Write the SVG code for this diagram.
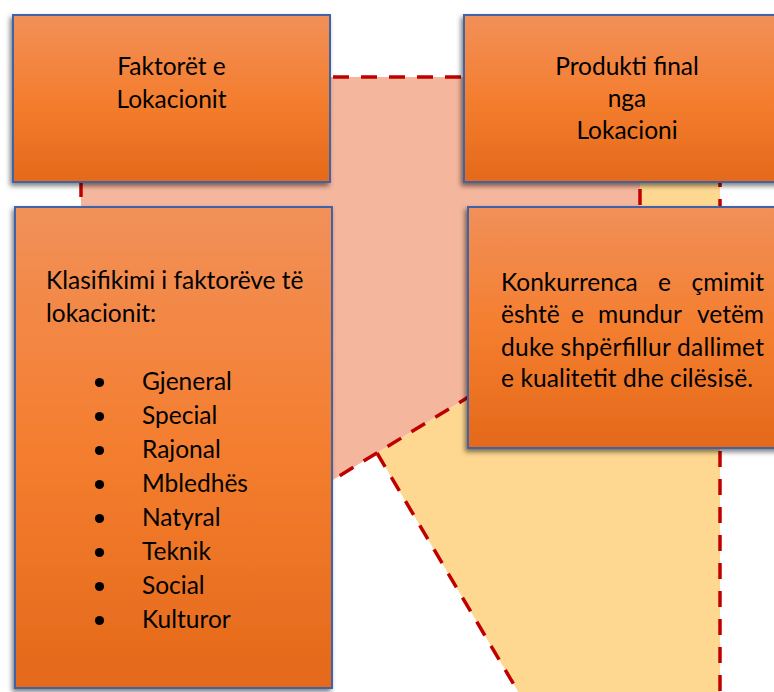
<svg xmlns="http://www.w3.org/2000/svg" width="774" height="692" viewBox="0 0 774 692">
  <defs>
    <linearGradient id="boxFill" x1="0" y1="0" x2="0" y2="1">
      <stop offset="0" stop-color="#F19059"/>
      <stop offset="0.5" stop-color="#F47E2F"/>
      <stop offset="1" stop-color="#E4691A"/>
    </linearGradient>
    <filter id="shadow" x="-10%" y="-10%" width="120%" height="125%">
      <feDropShadow dx="-2" dy="3" stdDeviation="2.5" flood-color="#000" flood-opacity="0.5"/>
    </filter>
  </defs>
  <style>
    .box { fill: url(#boxFill); stroke: #3F64A8; stroke-width: 2; filter: url(#shadow); }
    .t { font-family: Lato, "Liberation Sans", sans-serif; font-size: 24.5px; fill: #000; }
    .c { text-anchor: middle; }
    .e { text-anchor: end; }
    .dash { fill: none; stroke: #C00000; stroke-width: 3.5; stroke-dasharray: 16 12; }
    .bullet { fill: #000; }
  </style>

  <!-- background bands -->
  <g id="bands">
    <polygon points="640,100 720,100 720,700 523,700 377,453 640,292" fill="#FED891"/>
    <polygon points="81,77 640,77 640,292 81,634" fill="#F4B69C"/>
  </g>

  <!-- dashed outlines of the bands -->
  <g id="connectors">
    <path class="dash" d="M81 77 H640"/>
    <path class="dash" d="M81 77 V634" stroke-dashoffset="8"/>
    <path class="dash" d="M640 77 V292"/>
    <path class="dash" d="M640 292 L81 634"/>
    <path class="dash" d="M720 100 V700" stroke-dashoffset="13"/>
    <path class="dash" d="M377 453 L523 700"/>
  </g>

  <g id="faktoret">
    <rect class="box" x="13" y="15" width="317" height="167"/>
    <text class="t c" x="171.5" y="75">Faktorët e</text>
    <text class="t c" x="171.5" y="108">Lokacionit</text>
  </g>

  <g id="produkti">
    <rect class="box" x="464" y="15" width="326" height="167"/>
    <text class="t c" x="627" y="75">Produkti final</text>
    <text class="t c" x="627" y="107">nga</text>
    <text class="t c" x="627" y="139">Lokacioni</text>
  </g>

  <g id="klasifikimi">
    <rect class="box" x="15" y="207" width="317" height="481"/>
    <text class="t" x="46" y="289">Klasifikimi i faktorëve të</text>
    <text class="t" x="46" y="322">lokacionit:</text>
    <circle class="bullet" cx="99.5" cy="382.5" r="4.6"/>
    <circle class="bullet" cx="99.5" cy="416.5" r="4.6"/>
    <circle class="bullet" cx="99.5" cy="450.5" r="4.6"/>
    <circle class="bullet" cx="99.5" cy="484.5" r="4.6"/>
    <circle class="bullet" cx="99.5" cy="518.5" r="4.6"/>
    <circle class="bullet" cx="99.5" cy="552.5" r="4.6"/>
    <circle class="bullet" cx="99.5" cy="586.5" r="4.6"/>
    <circle class="bullet" cx="99.5" cy="620.5" r="4.6"/>
    <text class="t" x="142" y="390">Gjeneral</text>
    <text class="t" x="142" y="424">Special</text>
    <text class="t" x="142" y="458">Rajonal</text>
    <text class="t" x="142" y="492">Mbledhës</text>
    <text class="t" x="142" y="526">Natyral</text>
    <text class="t" x="142" y="560">Teknik</text>
    <text class="t" x="142" y="594">Social</text>
    <text class="t" x="142" y="628">Kulturor</text>
  </g>

  <g id="konkurrenca">
    <rect class="box" x="468" y="207" width="330" height="241"/>
    <text class="t" x="501" y="291">Konkurrenca</text>
    <text class="t c" x="664.5" y="291">e</text>
    <text class="t e" x="764" y="291">çmimit</text>
    <text class="t" x="501" y="323">është</text>
    <text class="t c" x="577.5" y="323">e</text>
    <text class="t c" x="640" y="323">mundur</text>
    <text class="t e" x="764" y="323">vetëm</text>
    <text class="t" x="501" y="356" textLength="263" lengthAdjust="spacing">duke shpërfillur dallimet</text>
    <text class="t" x="501" y="387" textLength="252" lengthAdjust="spacing">e kualitetit dhe cilësisë.</text>
  </g>
</svg>
